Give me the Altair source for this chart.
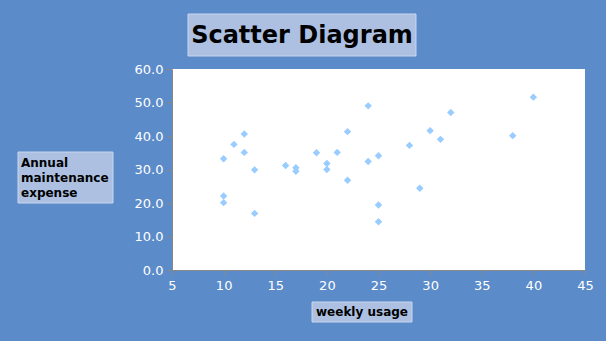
import altair as alt
import pandas as pd

# Data
weekly_usage = [10, 10, 10, 11, 12, 12, 13, 13, 16, 17, 17, 19, 20, 20, 21, 22, 22,
                24, 24, 25, 25, 25, 28, 29, 30, 31, 32, 38, 40]
annual_expense = [33.2, 22.1, 20.1, 37.5, 40.6, 35.1, 29.9, 16.9, 31.2, 30.5, 29.5, 35.0,
                  31.8, 30.0, 35.1, 41.3, 26.8, 49.0, 32.4, 34.1, 19.4, 14.4, 37.2, 24.4,
                  41.6, 39.0, 47.0, 40.1, 51.6]
x_ticks = [5, 10, 15, 20, 25, 30, 35, 40, 45]
y_ticks = [0, 10, 20, 30, 40, 50, 60]

title_text = "Scatter Diagram"
y_title_lines = ["Annual", "maintenance", "expense"]
x_title_text = "weekly usage"

df = pd.DataFrame({"usage": weekly_usage, "expense": annual_expense})
one = pd.DataFrame({"k": [0]})

BOX_FILL = "#adc0e2"
BOX_STROKE = "#c9d6ee"

points = alt.Chart(df).mark_point(shape="diamond", filled=True, size=55, color="#99ccff", opacity=1).encode(
    x=alt.X("usage:Q", scale=alt.Scale(domain=[5, 45], nice=False),
            axis=alt.Axis(values=x_ticks, title=None, grid=False, labelColor="white",
                          labelFontSize=13, labelFont="DejaVu Sans", domainColor="#888888",
                          tickColor="#888888", tickSize=5, labelPadding=4, labelFlush=False)),
    y=alt.Y("expense:Q", scale=alt.Scale(domain=[0, 60], nice=False),
            axis=alt.Axis(values=y_ticks, format=".1f", title=None, grid=False, labelColor="white",
                          labelFontSize=13, labelFont="DejaVu Sans", domainColor="#888888",
                          tickColor="#888888", tickSize=5, labelPadding=4)),
)

title_box = alt.Chart(one).mark_rect(fill=BOX_FILL, stroke=BOX_STROKE, strokeWidth=1, clip=False).encode(
    x=alt.value(16), x2=alt.value(244), y=alt.value(-55), y2=alt.value(-13))
title_txt = alt.Chart(one).mark_text(text=title_text, font="DejaVu Sans", fontSize=24, fontWeight="bold",
                                     color="black", align="center", baseline="middle").encode(
    x=alt.value(130), y=alt.value(-33))

ybox = alt.Chart(one).mark_rect(fill=BOX_FILL, stroke=BOX_STROKE, strokeWidth=1, clip=False).encode(
    x=alt.value(-154), x2=alt.value(-59), y=alt.value(83), y2=alt.value(134))
ylayers = []
for i, line in enumerate(y_title_lines):
    ylayers.append(alt.Chart(one).mark_text(text=line, font="DejaVu Sans", fontSize=12, fontWeight="bold",
                                            color="black", align="left", baseline="middle").encode(
        x=alt.value(-151), y=alt.value(94 + 15 * i)))

xbox = alt.Chart(one).mark_rect(fill=BOX_FILL, stroke=BOX_STROKE, strokeWidth=1, clip=False).encode(
    x=alt.value(140), x2=alt.value(240), y=alt.value(233), y2=alt.value(253))
xtxt = alt.Chart(one).mark_text(text=x_title_text, font="DejaVu Sans", fontSize=12, fontWeight="bold",
                                color="black", align="center", baseline="middle").encode(
    x=alt.value(190), y=alt.value(243))

chart = alt.layer(points, title_box, title_txt, ybox, *ylayers, xbox, xtxt).properties(
    width=413, height=201,
    background="#5b8bc9",
    padding={"left": 172, "top": 69, "right": 21, "bottom": 71},
    autosize=alt.AutoSizeParams(type="none"),
).configure_view(fill="white", strokeWidth=0)

chart.save("out.html", embed_options={"renderer": "svg", "actions": False})
